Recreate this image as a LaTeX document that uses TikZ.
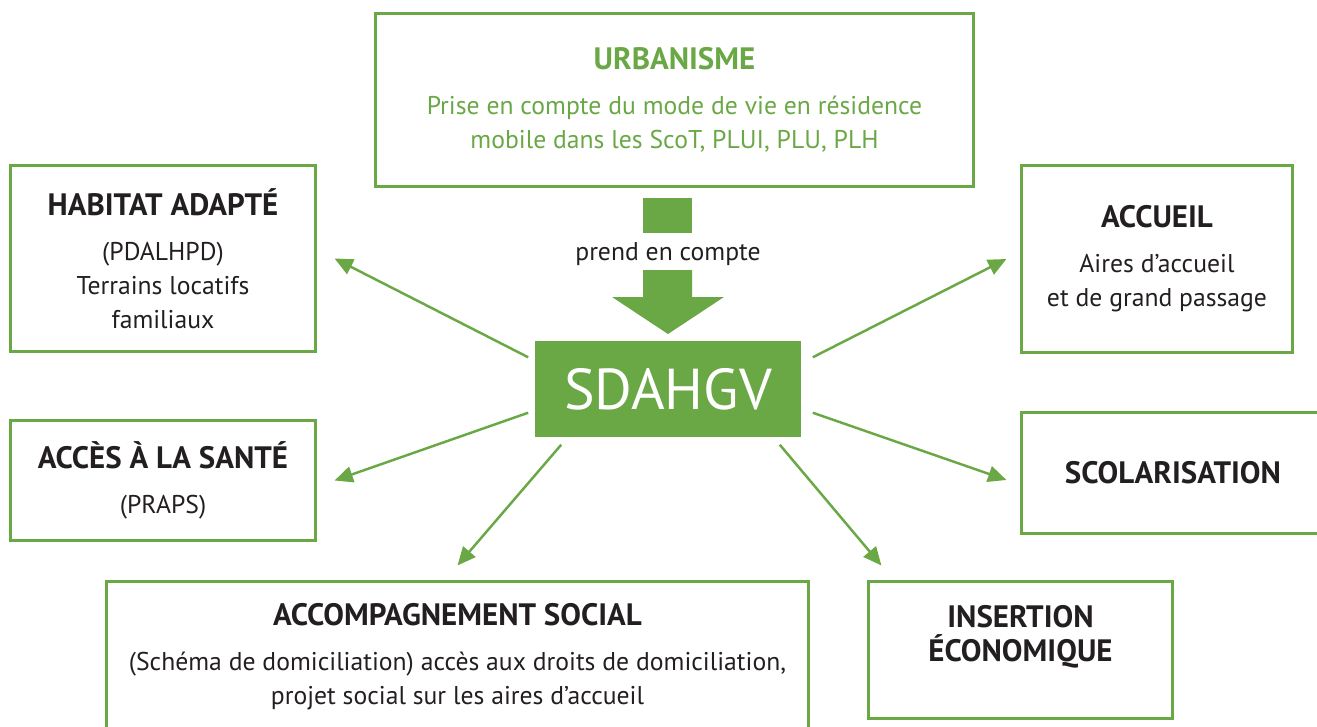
\documentclass[tikz,border=0pt]{standalone}
\usepackage{fontspec}
\setmainfont{PT Sans}
\usepackage{tikz}
\usetikzlibrary{arrows.meta,calc}
\definecolor{sdgreen}{RGB}{106,168,70}
\definecolor{sdtext}{RGB}{35,31,32}
\newcommand\boxtitle[1]{{\fontsize{8.8}{9.7}\selectfont\bfseries #1}}

\begin{document}
\begin{tikzpicture}[x=0.01cm,y=-0.01cm,>={Triangle[length=5.2pt,width=4.6pt]},
  box/.style={draw=sdgreen,line width=0.85pt,align=center,inner sep=0pt,text=sdtext,
    font=\fontsize{7.3}{9.7}\selectfont},
  link/.style={->,draw=sdgreen,line width=0.7pt}]
\clip (0,0) rectangle (1317,727);
\node[box,text=sdgreen,minimum width=5.97cm,minimum height=1.72cm] (urbanisme) at (674.5,100)
  {\boxtitle{URBANISME}\\[3pt] Prise en compte du mode de vie en résidence\\ mobile dans les ScoT, PLUI, PLU, PLH};
\node[box,minimum width=3.04cm,minimum height=1.86cm] (habitat) at (163,258.5)
  {\boxtitle{HABITAT ADAPTÉ}\\[3pt] (PDALHPD)\\ Terrains locatifs\\ familiaux};
\node[box,minimum width=3.04cm,minimum height=1.2cm] (sante) at (163,480.5)
  {\boxtitle{ACCÈS À LA SANTÉ}\\[3pt] (PRAPS)};
\node[box,minimum width=7.01cm,minimum height=1.5cm] (accomp) at (457.5,657)
  {\boxtitle{ACCOMPAGNEMENT SOCIAL}\\[3pt] (Schéma de domiciliation) accès aux droits de domiciliation,\\ projet social sur les aires d’accueil};
\node[box,minimum width=2.7cm,minimum height=1.86cm] (accueil) at (1157,259)
  {\boxtitle{ACCUEIL}\\[3pt] Aires d’accueil\\ et de grand passage};
\node[box,minimum width=3.02cm,minimum height=1.2cm] (scolar) at (1173,473) {\boxtitle{SCOLARISATION}};
\node[box,minimum width=3.03cm,minimum height=1.36cm] (insertion) at (1020.5,650) {};
\node[box,draw=none] (insertiontext) at (1020.5,637) {\boxtitle{INSERTION}\\ \boxtitle{ÉCONOMIQUE}};
\node[fill=sdgreen,text=white,inner sep=0pt,minimum width=2.66cm,minimum height=0.96cm,
  font=\fontsize{16.4}{19}\selectfont] (sdahgv) at (668,389) {SDAHGV};
% big arrow
\fill[sdgreen] (643,198) rectangle (692,233);
\node[text=sdtext,font=\fontsize{7.3}{9.7}\selectfont] (prend) at (668,254) {prend en compte};
\fill[sdgreen] (643,270) -- (692,270) -- (692,297) -- (724,297) -- (668,334) -- (612,297) -- (643,297) -- cycle;
% links
\draw[link] ($(sdahgv.north west)+(-6,17)$) -- ($(habitat.east)+(18,0)$);
\draw[link] ($(sdahgv.south west)+(-6,-25)$) -- ($(sante.east)+(18,0)$);
\draw[link] ($(sdahgv.south west)+(27,7)$) -- ($(accomp.north)+(0,-15)$);
\draw[link] ($(sdahgv.south east)+(-22,7)$) -- ($(insertion.north west)+(14,-15)$);
\draw[link] ($(sdahgv.south east)+(11,-25)$) -- ($(scolar.west)+(-14,7)$);
\draw[link] ($(sdahgv.north east)+(11,17)$) -- ($(accueil.west)+(-14,0)$);
\end{tikzpicture}
\end{document}
